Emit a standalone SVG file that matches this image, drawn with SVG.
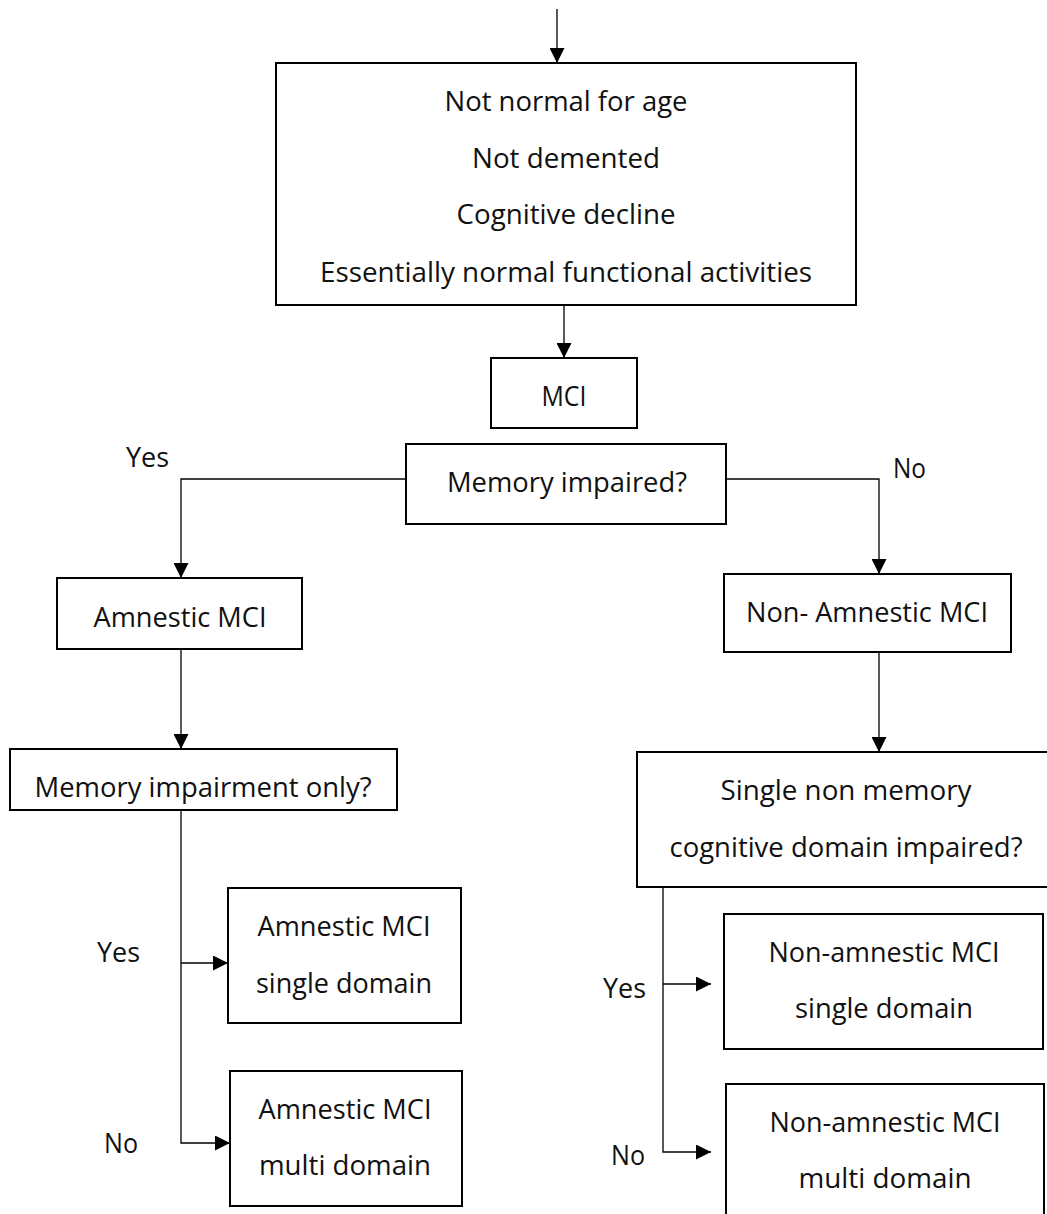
<svg xmlns="http://www.w3.org/2000/svg" width="1047" height="1214" viewBox="0 0 1047 1214">
<style>
.box{fill:#fff;stroke:#000;stroke-width:2}
.t{font-family:"Open Sans","Noto Sans","DejaVu Sans",sans-serif;font-size:27.5px;fill:#111;text-anchor:middle}
.lbl{font-family:"Open Sans","Noto Sans","DejaVu Sans",sans-serif;font-size:27.5px;fill:#111}
.c{fill:none;stroke:#000;stroke-width:1.3}
</style>
<defs>
<marker id="ah" viewBox="0 0 15 15" refX="15" refY="7.5" markerWidth="15" markerHeight="15" markerUnits="userSpaceOnUse" orient="auto">
<path d="M0,0 L15,7.5 L0,15 z" fill="#000"/>
</marker>
</defs>
<rect width="1047" height="1214" fill="#fff"/>
<g id="connectors">
<line class="c" x1="557" y1="9" x2="557" y2="63" marker-end="url(#ah)"/>
<line class="c" x1="564" y1="305" x2="564" y2="358" marker-end="url(#ah)"/>
<polyline class="c" points="406,479 181,479 181,578" marker-end="url(#ah)"/>
<polyline class="c" points="726,479 879,479 879,574" marker-end="url(#ah)"/>
<line class="c" x1="181" y1="649" x2="181" y2="749" marker-end="url(#ah)"/>
<line class="c" x1="879" y1="652" x2="879" y2="752" marker-end="url(#ah)"/>
<polyline class="c" points="181,810 181,1143 230,1143" marker-end="url(#ah)"/>
<line class="c" x1="181" y1="963" x2="228" y2="963" marker-end="url(#ah)"/>
<polyline class="c" points="663,887 663,1152 711,1152" marker-end="url(#ah)"/>
<line class="c" x1="663" y1="984" x2="711" y2="984" marker-end="url(#ah)"/>
</g>
<g id="labels">
<text class="lbl" x="126" y="467" textLength="43" lengthAdjust="spacingAndGlyphs">Yes</text>
<text class="lbl" x="893" y="478" textLength="33" lengthAdjust="spacingAndGlyphs">No</text>
<text class="lbl" x="97" y="962" textLength="43" lengthAdjust="spacingAndGlyphs">Yes</text>
<text class="lbl" x="104" y="1153" textLength="34" lengthAdjust="spacingAndGlyphs">No</text>
<text class="lbl" x="603" y="998" textLength="43" lengthAdjust="spacingAndGlyphs">Yes</text>
<text class="lbl" x="611" y="1165" textLength="34" lengthAdjust="spacingAndGlyphs">No</text>
</g>
<g id="criteria">
<rect class="box" x="276" y="63" width="580" height="242"/>
<text class="t" x="566" y="111" textLength="243" lengthAdjust="spacingAndGlyphs">Not normal for age</text>
<text class="t" x="566" y="168" textLength="188" lengthAdjust="spacingAndGlyphs">Not demented</text>
<text class="t" x="566" y="224" textLength="219" lengthAdjust="spacingAndGlyphs">Cognitive decline</text>
<text class="t" x="566" y="282" textLength="492" lengthAdjust="spacingAndGlyphs">Essentially normal functional activities</text>
</g>
<g id="mci">
<rect class="box" x="491" y="358" width="146" height="70"/>
<text class="t" x="564" y="406" textLength="45" lengthAdjust="spacingAndGlyphs">MCI</text>
</g>
<g id="memory-impaired">
<rect class="box" x="406" y="444" width="320" height="80"/>
<text class="t" x="567" y="492" textLength="240" lengthAdjust="spacingAndGlyphs">Memory impaired?</text>
</g>
<g id="amnestic">
<rect class="box" x="57" y="578" width="245" height="71"/>
<text class="t" x="180" y="627" textLength="173" lengthAdjust="spacingAndGlyphs">Amnestic MCI</text>
</g>
<g id="non-amnestic">
<rect class="box" x="724" y="574" width="287" height="78"/>
<text class="t" x="867" y="622" textLength="242" lengthAdjust="spacingAndGlyphs">Non- Amnestic MCI</text>
</g>
<g id="memory-only">
<rect class="box" x="10" y="749" width="387" height="61"/>
<text class="t" x="203" y="797" textLength="337" lengthAdjust="spacingAndGlyphs">Memory impairment only?</text>
</g>
<g id="single-non-memory">
<rect class="box" x="637" y="752" width="420" height="135"/>
<text class="t" x="846" y="800" textLength="251" lengthAdjust="spacingAndGlyphs">Single non memory</text>
<text class="t" x="846" y="857" textLength="353" lengthAdjust="spacingAndGlyphs">cognitive domain impaired?</text>
</g>
<g id="amnestic-single">
<rect class="box" x="228" y="888" width="233" height="135"/>
<text class="t" x="344" y="936" textLength="173" lengthAdjust="spacingAndGlyphs">Amnestic MCI</text>
<text class="t" x="344" y="993" textLength="176" lengthAdjust="spacingAndGlyphs">single domain</text>
</g>
<g id="amnestic-multi">
<rect class="box" x="230" y="1071" width="232" height="135"/>
<text class="t" x="345" y="1119" textLength="173" lengthAdjust="spacingAndGlyphs">Amnestic MCI</text>
<text class="t" x="345" y="1175" textLength="172" lengthAdjust="spacingAndGlyphs">multi domain</text>
</g>
<g id="non-amnestic-single">
<rect class="box" x="724" y="914" width="319" height="135"/>
<text class="t" x="884" y="962" textLength="231" lengthAdjust="spacingAndGlyphs">Non-amnestic MCI</text>
<text class="t" x="884" y="1018" textLength="178" lengthAdjust="spacingAndGlyphs">single domain</text>
</g>
<g id="non-amnestic-multi">
<rect class="box" x="726" y="1084" width="318" height="145"/>
<text class="t" x="885" y="1132" textLength="231" lengthAdjust="spacingAndGlyphs">Non-amnestic MCI</text>
<text class="t" x="885" y="1188" textLength="173" lengthAdjust="spacingAndGlyphs">multi domain</text>
</g>
</svg>
